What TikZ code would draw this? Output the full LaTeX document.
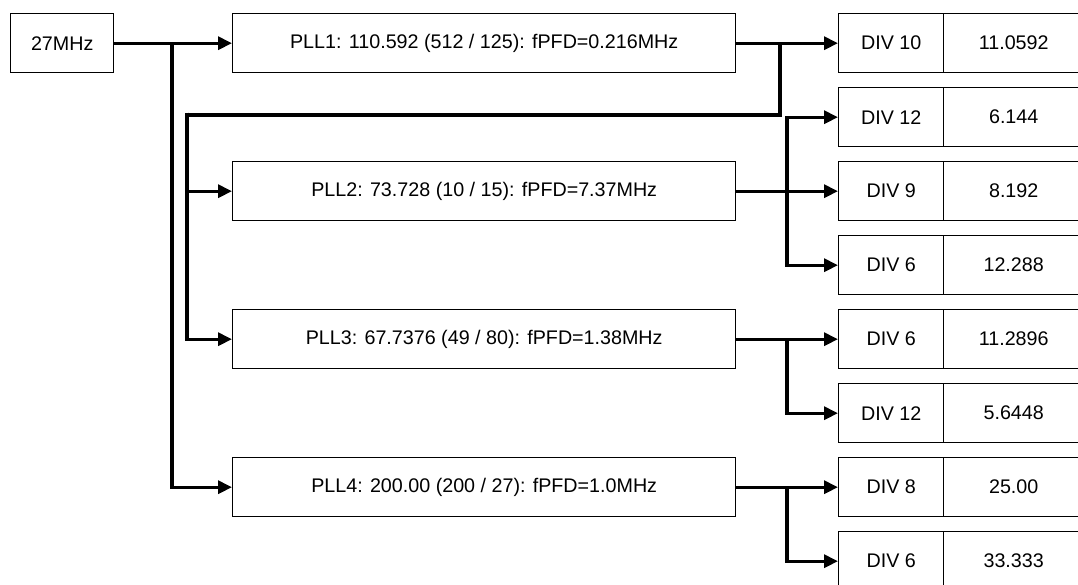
\documentclass[tikz,border=0pt]{standalone}
\usepackage{fontspec}
\setmainfont{Liberation Sans}
\usetikzlibrary{arrows.meta}
\tikzset{
  blk/.style={draw, line width=1.4pt, minimum height=59pt, inner sep=0pt, anchor=north west, font=\fontsize{19.7}{22}\selectfont},
  conn/.style={line width=3.2pt},
  thickconn/.style={line width=4.8pt},
  arr/.style={conn, -{Triangle[length=14pt,width=13pt]}},
}
\begin{document}
\begin{tikzpicture}[x=1pt,y=-1pt]
\useasboundingbox (0,0) rectangle (1078,585);
\clip (0,0) rectangle (1078,585);
% source and PLLs
\node[blk, minimum width=103pt] (src) at (10,13) {27MHz};
\node[blk, minimum width=503pt] (pll1) at (232,13) {PLL1: 110.592 (512 / 125): fPFD=0.216MHz};
\node[blk, minimum width=503pt] (pll2) at (232,161) {PLL2: 73.728 (10 / 15): fPFD=7.37MHz};
\node[blk, minimum width=503pt] (pll3) at (232,309) {PLL3: 67.7376 (49 / 80): fPFD=1.38MHz};
\node[blk, minimum width=503pt] (pll4) at (232,457) {PLL4: 200.00 (200 / 27): fPFD=1.0MHz};
% dividers
\foreach \i/\y/\d/\v in {1/13/DIV 10/11.0592, 2/87/DIV 12/6.144, 3/161/DIV 9/8.192, 4/235/DIV 6/12.288,
                        5/309/DIV 6/11.2896, 6/383/DIV 12/5.6448, 7/457/DIV 8/25.00, 8/531/DIV 6/33.333}{
  \node[blk, minimum width=105pt] (d\i) at (838,\y) {\d};
  \node[blk, minimum width=140pt] (v\i) at (943,\y) {\v};
}
% junction coordinates
\coordinate (j0) at (172,42.5);
\coordinate (j1) at (780,42.5);
\coordinate (k1) at (780,115);
\coordinate (k2) at (187,115);
\coordinate (j2) at (787,190.5);
\coordinate (j3) at (787,338.5);
\coordinate (j4) at (787,486.5);
% connectors
\draw[arr] (src.east) -- (pll1.west);
\draw[arr] (j0) |- (pll4.west);
\draw[arr] (pll1.east) -- (d1.west);
\draw[conn] (j1) -- ([yshift=-2.4pt]k1);
\draw[thickconn] ([xshift=1.6pt]k1) -- ([xshift=-1.6pt]k2);
\draw[arr] ([yshift=2.4pt]k2) |- (pll2.west);
\draw[arr] ([yshift=2.4pt]k2) |- (pll3.west);
\draw[arr] (pll2.east) -- (d3.west);
\draw[arr] (j2) |- (d2.west);
\draw[arr] (j2) |- (d4.west);
\draw[arr] (pll3.east) -- (d5.west);
\draw[arr] (j3) |- (d6.west);
\draw[arr] (pll4.east) -- (d7.west);
\draw[arr] (j4) |- (d8.west);
\end{tikzpicture}
\end{document}
